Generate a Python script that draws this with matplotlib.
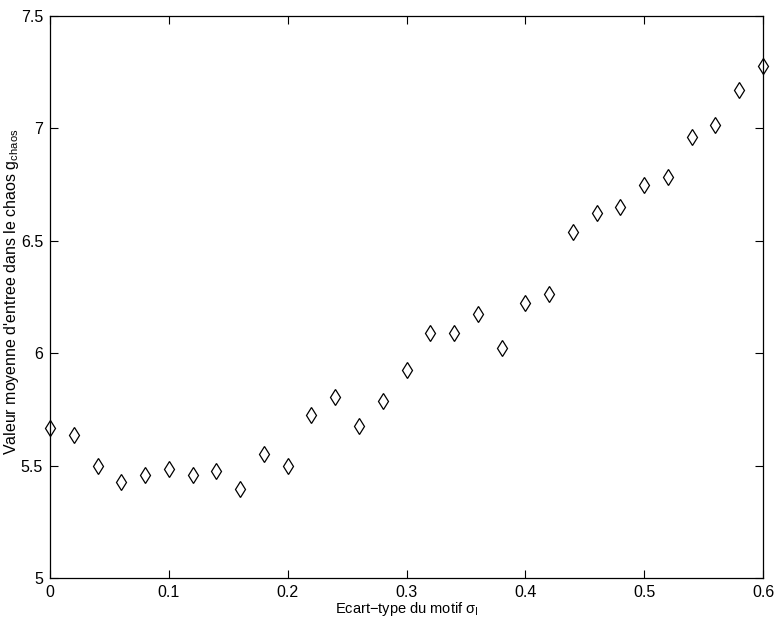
import matplotlib
matplotlib.use("Agg")
import matplotlib.pyplot as plt
import numpy as np

plt.rcParams['font.family'] = ['Liberation Sans', 'DejaVu Sans']
plt.rcParams['mathtext.fontset'] = 'custom'
plt.rcParams['mathtext.rm'] = 'Liberation Sans'
plt.rcParams['mathtext.it'] = 'Liberation Sans'
plt.rcParams['mathtext.sf'] = 'Liberation Sans'

sigma = [0.00, 0.02, 0.04, 0.06, 0.08, 0.10, 0.12, 0.14, 0.16, 0.18,
         0.20, 0.22, 0.24, 0.26, 0.28, 0.30, 0.32, 0.34, 0.36, 0.38,
         0.40, 0.42, 0.44, 0.46, 0.48, 0.50, 0.52, 0.54, 0.56, 0.58, 0.60]
g_chaos = [5.667, 5.637, 5.500, 5.429, 5.456, 5.484, 5.459, 5.477, 5.397, 5.552,
           5.500, 5.723, 5.803, 5.674, 5.788, 5.924, 6.092, 6.089, 6.176, 6.021,
           6.224, 6.262, 6.539, 6.624, 6.650, 6.747, 6.784, 6.961, 7.016, 7.169,
           7.276]

xticks = [0, 0.1, 0.2, 0.3, 0.4, 0.5, 0.6]
xticklabels = ['0', '0.1', '0.2', '0.3', '0.4', '0.5', '0.6']
yticks = [5, 5.5, 6, 6.5, 7, 7.5]
yticklabels = ['5', '5.5', '6', '6.5', '7', '7.5']

fig = plt.figure(figsize=(7.82, 6.24), dpi=100)
ax = fig.add_axes([50/782, 46/624, 713/782, 562/624])

ax.plot(sigma, g_chaos, linestyle='none', marker='d', markersize=8.5,
        markerfacecolor='none', markeredgecolor='black', markeredgewidth=0.9,
        clip_on=False)

ax.set_xlim(0, 0.6)
ax.set_ylim(5, 7.5)
ax.set_xticks(xticks)
ax.set_xticklabels(xticklabels)
ax.set_yticks(yticks)
ax.set_yticklabels(yticklabels)
ax.tick_params(direction='in', top=True, right=True, length=6, width=0.8,
               labelsize=11.5, pad=5)
for s in ax.spines.values():
    s.set_linewidth(0.9)

ax.set_xlabel('Ecart\u2212type du motif $\\sigma_\\mathrm{I}$', fontsize=10.5, labelpad=0)
ax.set_ylabel("Valeur moyenne d'entree dans le chaos $\\mathrm{g}_\\mathrm{chaos}$",
              fontsize=11.5)
ax.yaxis.set_label_coords(-0.041, 0.51)

fig.savefig('out.png', dpi=100)
